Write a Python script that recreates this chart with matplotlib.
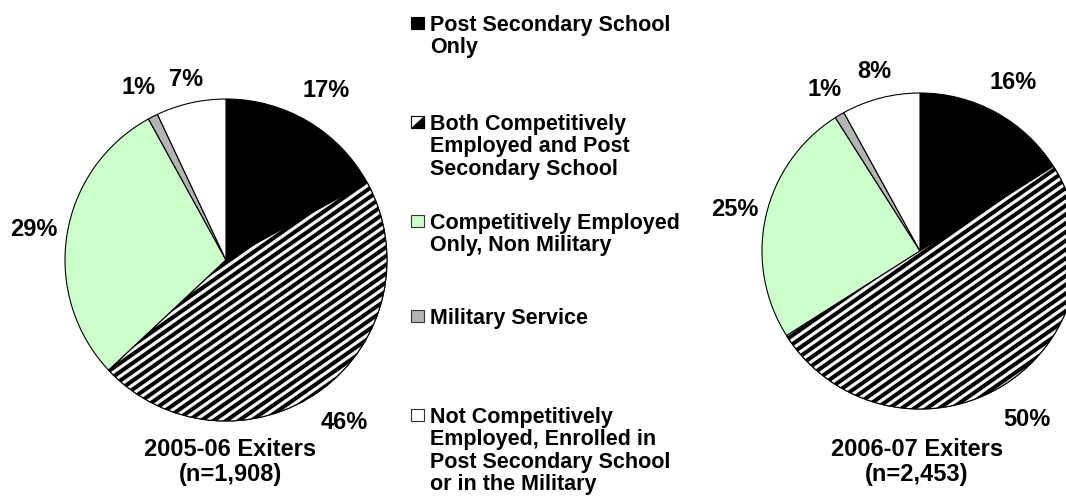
import numpy as np
import matplotlib
matplotlib.use("Agg")
import matplotlib.pyplot as plt
import matplotlib.patches as mpatches
from matplotlib.collections import LineCollection

plt.rcParams['font.family'] = ['Liberation Sans', 'DejaVu Sans']

# data
categories = ["Post Secondary School Only",
              "Both Competitively Employed and Post Secondary School",
              "Competitively Employed Only, Non Military",
              "Military Service",
              "Not Competitively Employed, Enrolled in Post Secondary School or in the Military"]
legend_lines = [["Post Secondary School", "Only"],
                ["Both Competitively", "Employed and Post", "Secondary School"],
                ["Competitively Employed", "Only, Non Military"],
                ["Military Service"],
                ["Not Competitively", "Employed, Enrolled in", "Post Secondary School", "or in the Military"]]
pct_0506 = [17, 46, 29, 1, 7]
pct_0607 = [16, 50, 25, 1, 8]
titles = [["2005-06 Exiters", "(n=1,908)"], ["2006-07 Exiters", "(n=2,453)"]]

colors = ['black', 'black', '#ccffcc', '#b4b4b4', 'white']

W, H = 1066, 497
fig = plt.figure(figsize=(W / 100, H / 100), dpi=100)
ax = fig.add_axes([0, 0, 1, 1])


def py(y):
    # pixel row (from top) -> data y
    return H - y


def draw_pie(values, cx, cy, r, title, tx, label_dist):
    wedges, texts, autotexts = ax.pie(
        values, colors=colors, startangle=90, counterclock=False,
        radius=r, center=(cx, py(cy)),
        autopct=lambda p: f"{p:.0f}%", pctdistance=1.2,
        wedgeprops=dict(edgecolor='black', linewidth=0.8),
        textprops=dict(fontsize=17, fontweight='bold', color='black'))
    # nudge each label outward like the original layout
    for w, t, d in zip(wedges, autotexts, label_dist):
        t.set_color('black')
        mid = np.deg2rad((w.theta1 + w.theta2) / 2)
        t.set_position((cx + d * r * np.cos(mid), py(cy) + d * r * np.sin(mid)))
    # stripes on the "both" wedge
    w = wedges[1]
    ang = np.deg2rad(35)
    step = 7.2 / np.cos(ang)
    segs = []
    x0, x1 = cx - r - 5, cx + r + 5
    for c in np.arange(-2.5 * r, 2.5 * r, step):
        segs.append([(x0, py(cy) + c + np.tan(ang) * (x0 - cx)),
                     (x1, py(cy) + c + np.tan(ang) * (x1 - cx))])
    lc = LineCollection(segs, colors='#f4f4f4', linewidths=2.3, zorder=w.get_zorder() + 0.1)
    ax.add_collection(lc)
    lc.set_clip_path(w)
    outline = mpatches.Wedge(w.center, w.r, w.theta1, w.theta2, fill=False,
                             edgecolor='black', linewidth=0.8, zorder=w.get_zorder() + 0.2)
    ax.add_patch(outline)
    for i, line in enumerate(title):
        ax.text(tx, py(448 + 25 * i + 8.5), line, ha='center', va='baseline',
                fontsize=17, fontweight='bold')


draw_pie(pct_0506, 226, 260, 161, titles[0], 230, [1.22, 1.25, 1.21, 1.2, 1.15])
draw_pie(pct_0607, 920, 251, 158, titles[1], 917, [1.22, 1.26, 1.2, 1.19, 1.17])

# legend
entry_y = [23, 122, 221, 316, 415]
for k, lines in enumerate(legend_lines):
    yc = entry_y[k]
    x0, s = 411, 12.5
    if k == 1:
        ax.add_patch(mpatches.Rectangle((x0, py(yc) - s / 2), s, s, facecolor='white',
                                        edgecolor='black', linewidth=0.8))
        ax.add_patch(mpatches.Polygon([(x0, py(yc) - s / 2), (x0 + s, py(yc) - s / 2),
                                       (x0 + s, py(yc) + s / 2)], closed=True,
                                      facecolor='black', edgecolor='black', linewidth=0.8))
    else:
        ax.add_patch(mpatches.Rectangle((x0, py(yc) - s / 2), s, s, facecolor=colors[k],
                                        edgecolor='#333333' if k else 'black', linewidth=0.8))
    for i, line in enumerate(lines):
        ax.text(430, py(yc + 22.5 * i + 7.8), line, ha='left', va='baseline',
                fontsize=15.5, fontweight='bold')

ax.set_xlim(0, W)
ax.set_ylim(0, H)
ax.set_aspect('equal')
ax.axis('off')

fig.savefig("out.png", dpi=100)
